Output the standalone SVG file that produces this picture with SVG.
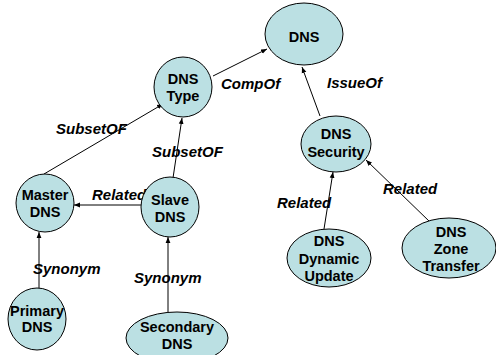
<svg xmlns="http://www.w3.org/2000/svg" width="496" height="355" viewBox="0 0 496 355">
<defs>
<marker id="arr" viewBox="0 0 10 10" refX="10" refY="5" markerWidth="6" markerHeight="6" orient="auto" markerUnits="userSpaceOnUse">
<path d="M0,1 L10,5 L0,9 z" fill="#000"/>
</marker>
<style>
.n{fill:#BBE0E3;stroke:#000;stroke-width:1}
.t{font-family:"Liberation Sans",Arial,sans-serif;font-weight:bold;font-size:14.5px;fill:#000;text-anchor:middle}
.e{stroke:#000;stroke-width:1;fill:none;marker-end:url(#arr)}
.l{font-family:"Liberation Sans",Arial,sans-serif;font-weight:bold;font-style:italic;font-size:15px;fill:#000}
</style>
</defs>
<rect width="496" height="355" fill="#fff"/>
<g id="connectors">
<line class="e" x1="213" y1="76" x2="267" y2="49"/>
<line class="e" x1="320" y1="116" x2="302" y2="67"/>
<line class="e" x1="44" y1="174" x2="163" y2="104"/>
<line class="e" x1="173" y1="178" x2="182" y2="118"/>
<line class="e" x1="141" y1="205" x2="74" y2="205"/>
<line class="e" x1="39" y1="288" x2="39" y2="232"/>
<line class="e" x1="168" y1="312" x2="168" y2="237"/>
<line class="e" x1="324" y1="229" x2="333" y2="172"/>
<line class="e" x1="430" y1="222" x2="366" y2="160"/>
<text class="l" x="221" y="89">CompOf</text>
<text class="l" x="327" y="88">IssueOf</text>
<text class="l" x="56" y="134">SubsetOF</text>
<text class="l" x="152" y="157">SubsetOF</text>
<text class="l" x="92" y="200">Related</text>
<text class="l" x="33" y="274">Synonym</text>
<text class="l" x="134" y="283">Synonym</text>
<text class="l" x="277" y="208">Related</text>
<text class="l" x="383" y="194">Related</text>
</g>
<g id="dns">
<ellipse class="n" cx="304" cy="34" rx="39" ry="31"/>
<text class="t" x="304" y="42">DNS</text>
</g>
<g id="dns-type">
<ellipse class="n" cx="183" cy="87" rx="29" ry="30"/>
<text class="t" x="183" y="84">DNS</text>
<text class="t" x="183" y="101">Type</text>
</g>
<g id="master-dns">
<ellipse class="n" cx="45" cy="203" rx="29" ry="29"/>
<text class="t" x="45" y="200">Master</text>
<text class="t" x="45" y="217">DNS</text>
</g>
<g id="slave-dns">
<ellipse class="n" cx="170" cy="207" rx="29" ry="30"/>
<text class="t" x="170" y="205">Slave</text>
<text class="t" x="170" y="222">DNS</text>
</g>
<g id="primary-dns">
<ellipse class="n" cx="37" cy="319" rx="29" ry="31"/>
<text class="t" x="37" y="316">Primary</text>
<text class="t" x="37" y="332">DNS</text>
</g>
<g id="secondary-dns">
<ellipse class="n" cx="177" cy="338" rx="51" ry="26"/>
<text class="t" x="177" y="332">Secondary</text>
<text class="t" x="177" y="349">DNS</text>
</g>
<g id="dns-security">
<ellipse class="n" cx="336" cy="144" rx="35" ry="28"/>
<text class="t" x="336" y="139">DNS</text>
<text class="t" x="336" y="157">Security</text>
</g>
<g id="dns-dynamic-update">
<ellipse class="n" cx="329" cy="258" rx="42" ry="29"/>
<text class="t" x="329" y="246">DNS</text>
<text class="t" x="329" y="264">Dynamic</text>
<text class="t" x="329" y="281">Update</text>
</g>
<g id="dns-zone-transfer">
<ellipse class="n" cx="449" cy="248" rx="47" ry="30"/>
<text class="t" x="451" y="237">DNS</text>
<text class="t" x="451" y="254">Zone</text>
<text class="t" x="451" y="271">Transfer</text>
</g>
</svg>
